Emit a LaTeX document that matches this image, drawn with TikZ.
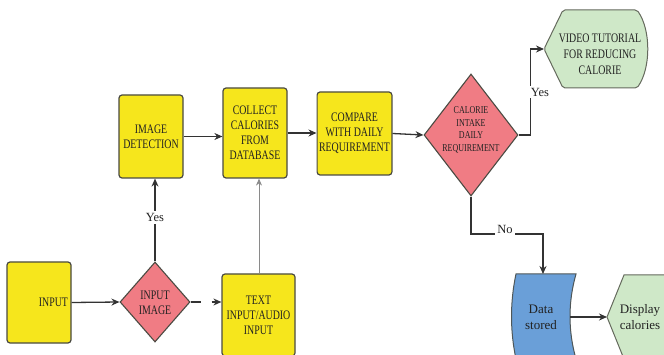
\documentclass[tikz,border=0pt]{standalone}
\usepackage{fontspec}
\setmainfont{Liberation Serif}
\newfontfamily\narrowserif[FakeStretch=0.76]{Liberation Serif}
\usetikzlibrary{shapes.geometric,arrows.meta}

\definecolor{boxyellow}{HTML}{F6E61C}
\definecolor{decisionred}{HTML}{F07C84}
\definecolor{outputgreen}{HTML}{CFE8C8}
\definecolor{storeblue}{HTML}{6A9FD8}
\definecolor{edgegray}{HTML}{4A4A42}
\definecolor{linegray}{HTML}{333333}
\definecolor{thingray}{HTML}{8A8A8A}
\definecolor{inkgray}{HTML}{222222}

\begin{document}
\begin{tikzpicture}[x=1pt,y=-1pt,
  stepbox/.style={draw=edgegray, fill=boxyellow, line width=1.2pt,
    rounded corners=3pt, inner sep=2pt, align=center, text=inkgray,
    font=\narrowserif\fontsize{13}{15}\selectfont},
  decision/.style={diamond, draw=edgegray, fill=decisionred, line width=1.1pt,
    inner sep=0pt},
  decisiontext/.style={align=center, text=inkgray, inner sep=0pt},
  shapetext/.style={align=center, text=inkgray, inner sep=0pt},
  flow/.style={draw=linegray, line width=1.3pt,
    -{Stealth[length=8pt,width=7pt]}},
  thinflow/.style={draw=thingray, line width=0.8pt,
    -{Stealth[length=7pt,width=6pt]}},
  branch/.style={fill=white, inner sep=2pt, text=inkgray,
    font=\fontsize{12.5}{14}\selectfont}
]
\useasboundingbox (0,0) rectangle (664,355);
\clip (0,0) rectangle (664,355);

% process boxes
\node[stepbox, minimum width=64pt, minimum height=81pt, text width=58pt,
      align=right] (input) at (39,302.5) {INPUT};
\node[stepbox, minimum width=64pt, minimum height=83pt] (imgdet) at (151,136.5)
  {IMAGE\\DETECTION};
\node[stepbox, minimum width=64pt, minimum height=90pt] (collect) at (255,133)
  {COLLECT\\CALORIES\\FROM\\DATABASE};
\node[stepbox, minimum width=71pt, minimum height=83pt] (compare) at (354.5,133.5)
  {COMPARE\\WITH DAILY\\REQUIREMENT};
\node[stepbox, minimum width=73pt, minimum height=82pt] (textin) at (258.5,315)
  {TEXT\\INPUT/AUDIO\\INPUT};

% decisions
\node[decision, minimum width=70pt, minimum height=80pt] (inimg) at (155,302) {};
\node[decisiontext, font=\narrowserif\fontsize{13}{15}\selectfont]
  (inimgtext) at (155,302.5) {INPUT\\IMAGE};
\node[decision, minimum width=94pt, minimum height=122pt] (calorie) at (471,135) {};
\node[decisiontext, font=\narrowserif\fontsize{10.5}{12.6}\selectfont]
  (calorietext) at (471,130) {CALORIE\\INTAKE\\DAILY\\REQUIREMENT};

% video tutorial (display shape)
\filldraw[draw=edgegray!80!outputgreen, fill=outputgreen, line width=1pt,
          rounded corners=2pt]
  (544,49) -- (563,10) -- (637,10) .. controls (651,30) and (651,68) .. (637,88)
  -- (563,88) -- cycle;
\coordinate (videotip) at (544,49);
\node[shapetext, font=\narrowserif\fontsize{13}{16}\selectfont]
  (video) at (600,54) {VIDEO TUTORIAL\\FOR REDUCING\\CALORIE};

% data stored
\filldraw[draw=edgegray!85!storeblue, fill=storeblue, line width=1pt]
  (516,274) -- (576,274) .. controls (568,302) and (568,331) .. (576,359)
  -- (516,359) .. controls (510,331) and (510,302) .. (516,274) -- cycle;
\coordinate (storedtop) at (543,274);
\coordinate (storedright) at (570,317);
\node[shapetext, font=\fontsize{13}{16}\selectfont] (stored) at (541,317)
  {Data\\stored};

% display calories
\filldraw[draw=edgegray!80!outputgreen, fill=outputgreen, line width=1pt]
  (607,317) -- (624,275) -- (690,275) -- (690,359) -- (624,359) -- cycle;
\coordinate (displaytip) at (607,317);
\node[shapetext, font=\fontsize{13}{16}\selectfont] (display) at (640,317)
  {Display\\calories};

% connectors
\draw[flow] (input.east) -- (inimg.west);
\draw[flow, dash pattern=on 10pt off 11pt on 20pt] (inimg.east) -- (inimg.east -| textin.west);
\draw[flow] (inimg.north) -- (inimg.north |- imgdet.south)
  node[branch, pos=0.53] (yesleft) {Yes};
\draw[thinflow] (textin.north -| 259,0) -- (259,0 |- collect.south);
\draw[flow] (imgdet.east) -- (collect.west |- imgdet.east);
\draw[flow] (collect.east) -- (compare.west |- collect.east);
\draw[flow] (compare.east) -- (calorie.west);
\draw[flow] (calorie.east) -- ++(12,0) |- (videotip);
\node[branch] (yesright) at (540,92) {Yes};
\coordinate (nobend) at (471,234);
\draw[flow] (calorie.south) -- (nobend) -| (storedtop);
\node[branch] (nolabel) at (505,229) {No};
\draw[flow] (storedright) -- (displaytip);
\end{tikzpicture}
\end{document}
